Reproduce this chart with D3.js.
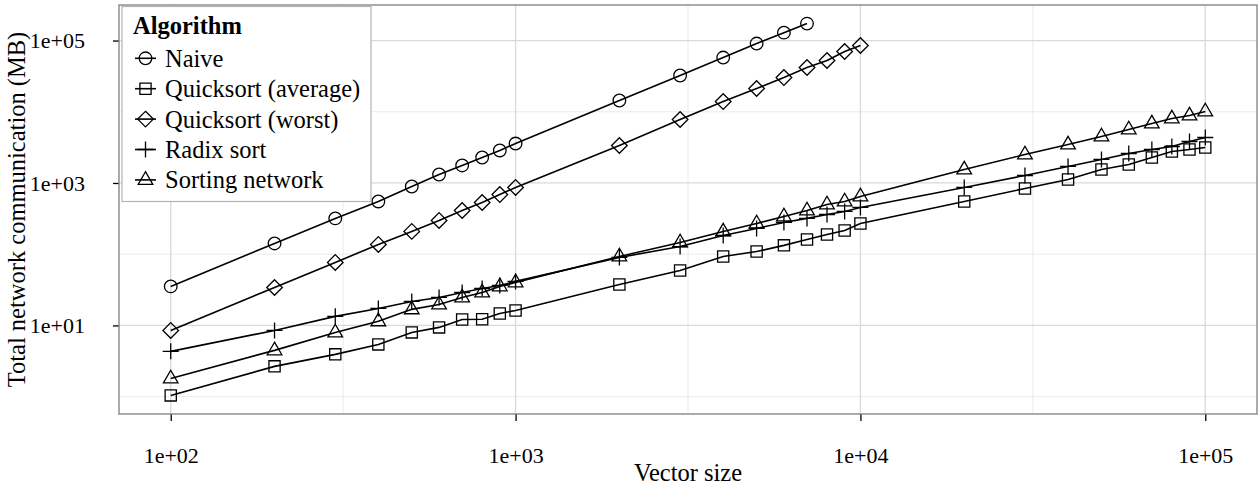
<!DOCTYPE html>
<html>
<head>
<meta charset="utf-8">
<script src="https://d3js.org/d3.v7.min.js"></script>
<style>
body{margin:0;background:#fff;}
text{font-family:"Liberation Serif","Times New Roman",serif;fill:#000;}
</style>
</head>
<body>
<script>
/////////////////////////////////////////////////////////////////////
// DATA
/////////////////////////////////////////////////////////////////////
var naiveSize=[100,200,300,400,500,600,700,800,900,1000,2000,3000,4000,5000,6000,7000];
var naiveMB=[35.3,141.6,318,550,893,1316,1762,2280,2860,3580,14400,32300,57700,90700,129000,173000];

var qsAvgSize=[100,200,300,400,500,600,700,800,900,1000,2000,3000,4000,5000,6000,7000,8000,9000,10000,
               20000,30000,40000,50000,60000,70000,80000,90000,100000];
var qsAvgMB=[1.04,2.66,3.92,5.41,7.97,9.38,12.1,12.2,14.7,16.2,37.6,59.1,93,109,133,161,189,215,270,
             550,837,1120,1546,1818,2280,2766,2950,3150];

var qsWorstSize=[100,200,300,400,500,600,700,800,900,1000,2000,3000,4000,5000,6000,7000,8000,9000,10000];
var qsWorstMB=[8.5,34.1,76.6,137,209,298,411,532,688,865,3360,7780,13900,21200,30200,41800,52400,70100,85100];

var radixSize=[100,200,300,400,500,600,700,800,900,1000,2000,3000,4000,5000,6000,7000,8000,9000,10000,
               20000,30000,40000,50000,60000,70000,80000,90000,100000];
var radixMB=[4.32,8.5,13.4,17.3,21.7,24.7,29,33,36.4,41.5,90,128,183,230,279,318,361,398,453,
             865,1274,1706,2138,2594,2950,3253,3822,4352];

var sortNetSize=[100,200,300,400,500,600,700,800,900,1000,2000,3000,4000,5000,6000,7000,8000,9000,10000,
                 20000,30000,40000,50000,60000,70000,80000,90000,100000];
var sortNetMB=[1.80,4.46,7.97,11.4,16.8,19.7,24.7,29,35.3,40.2,93,146,208,270,339,411,499,550,647,
               1546,2512,3467,4498,5636,6839,8035,8855,10090];

var algorithmNames=["Naive","Quicksort (average)","Quicksort (worst)","Radix sort","Sorting network"];
var algorithmShapes=["circle","square","diamond","plus","triangle"];

var xMajorTicks=[1e2,1e3,1e4,1e5];
var xMajorLabels=["1e+02","1e+03","1e+04","1e+05"];
var xMinorTicks=[Math.pow(10,2.5),Math.pow(10,3.5),Math.pow(10,4.5)];
var yMajorTicks=[1e1,1e3,1e5];
var yMajorLabels=["1e+01","1e+03","1e+05"];
var yMinorTicks=[1e0,1e2,1e4];

/////////////////////////////////////////////////////////////////////
// LAYOUT
/////////////////////////////////////////////////////////////////////
var W=1258, H=495;
var panel={left:119, right:1257, top:5, bottom:414};
var tickFont=22,   // tick labels
    titleFont=24.5; // axis titles and legend

var series=[
   {name:algorithmNames[0],shape:algorithmShapes[0],xs:naiveSize,ys:naiveMB},
   {name:algorithmNames[1],shape:algorithmShapes[1],xs:qsAvgSize,ys:qsAvgMB},
   {name:algorithmNames[2],shape:algorithmShapes[2],xs:qsWorstSize,ys:qsWorstMB},
   {name:algorithmNames[3],shape:algorithmShapes[3],xs:radixSize,ys:radixMB},
   {name:algorithmNames[4],shape:algorithmShapes[4],xs:sortNetSize,ys:sortNetMB}
];
series.forEach(function(s){ s.points=s.xs.map(function(v,i){return {x:v,y:s.ys[i]};}); });

// ggplot style 5% expansion in log space
function logDomain(vals){
   var lo=Math.log10(d3.min(vals)), hi=Math.log10(d3.max(vals)), pad=(hi-lo)*0.05;
   return [Math.pow(10,lo-pad),Math.pow(10,hi+pad)];
}
var allX=[].concat.apply([],series.map(function(s){return s.xs;})),
    allY=[].concat.apply([],series.map(function(s){return s.ys;}));

var x=d3.scaleLog().domain(logDomain(allX)).range([panel.left,panel.right]);
var y=d3.scaleLog().domain(logDomain(allY)).range([panel.bottom,panel.top]);

// marker paths centred on 0,0
function shapePath(shape){
   switch(shape){
      case "circle":   return "M6.3,0A6.3,6.3 0 1,1 -6.3,0A6.3,6.3 0 1,1 6.3,0Z";
      case "square":   return "M-5.6,-5.6H5.6V5.6H-5.6Z";
      case "diamond":  return "M0,-7.8L7.8,0L0,7.8L-7.8,0Z";
      case "plus":     return "M-8,0H8M0,-8V8";
      case "triangle": return "M0,-8.2L7.3,4.4H-7.3Z";
   }
}

var svg=d3.select("body").append("svg").attr("width",W).attr("height",H);

/////////////////////////////////////////////////////////////////////
// GRID
/////////////////////////////////////////////////////////////////////
var grid=svg.append("g");
grid.selectAll("line.xminor").data(xMinorTicks).enter().append("line")
    .attr("x1",function(d){return x(d);}).attr("x2",function(d){return x(d);})
    .attr("y1",panel.top).attr("y2",panel.bottom)
    .attr("stroke","#ebebeb").attr("stroke-width",1);
grid.selectAll("line.yminor").data(yMinorTicks).enter().append("line")
    .attr("y1",function(d){return y(d);}).attr("y2",function(d){return y(d);})
    .attr("x1",panel.left).attr("x2",panel.right)
    .attr("stroke","#ebebeb").attr("stroke-width",1);
grid.selectAll("line.xmajor").data(xMajorTicks).enter().append("line")
    .attr("x1",function(d){return x(d);}).attr("x2",function(d){return x(d);})
    .attr("y1",panel.top).attr("y2",panel.bottom)
    .attr("stroke","#d9d9d9").attr("stroke-width",1.3);
grid.selectAll("line.ymajor").data(yMajorTicks).enter().append("line")
    .attr("y1",function(d){return y(d);}).attr("y2",function(d){return y(d);})
    .attr("x1",panel.left).attr("x2",panel.right)
    .attr("stroke","#d9d9d9").attr("stroke-width",1.3);

/////////////////////////////////////////////////////////////////////
// AXES
/////////////////////////////////////////////////////////////////////
var xAxis=d3.axisBottom(x).tickValues(xMajorTicks)
            .tickFormat(function(d,i){return xMajorLabels[i];})
            .tickSize(7).tickPadding(26);
var gx=svg.append("g").attr("transform","translate(0,"+panel.bottom+")").call(xAxis);
gx.select(".domain").remove();
gx.selectAll("line").attr("stroke","#000").attr("stroke-width",1.3);
gx.selectAll("text").style("font-size",tickFont+"px").attr("font-family",null);

var yAxis=d3.axisLeft(y).tickValues(yMajorTicks)
            .tickFormat(function(d,i){return yMajorLabels[i];})
            .tickSize(6).tickPadding(28);
var gy=svg.append("g").attr("transform","translate("+panel.left+",0)").call(yAxis);
gy.select(".domain").remove();
gy.selectAll("line").attr("stroke","#000").attr("stroke-width",1.3);
gy.selectAll("text").style("font-size",tickFont+"px").attr("font-family",null);

svg.append("text").attr("x",(panel.left+panel.right)/2).attr("y",481)
   .attr("text-anchor","middle").style("font-size",titleFont+"px").text("Vector size");
svg.append("text").attr("transform","translate(25,"+((panel.top+panel.bottom)/2)+") rotate(-90)")
   .attr("text-anchor","middle").style("font-size",titleFont+"px").text("Total network communication (MB)");

/////////////////////////////////////////////////////////////////////
// SERIES
/////////////////////////////////////////////////////////////////////
var line=d3.line().x(function(d){return x(d.x);}).y(function(d){return y(d.y);});

series.forEach(function(s){
   var g=svg.append("g");
   g.append("path").datum(s.points).attr("d",line)
    .attr("fill","none").attr("stroke","#000").attr("stroke-width",1.6);
   g.selectAll("path.mark").data(s.points).enter().append("path")
    .attr("class","mark")
    .attr("transform",function(d){return "translate("+x(d.x)+","+y(d.y)+")";})
    .attr("d",shapePath(s.shape))
    .attr("fill","none").attr("stroke","#000").attr("stroke-width",1.3);
});

// panel border
svg.append("rect").attr("x",panel.left).attr("y",panel.top)
   .attr("width",panel.right-panel.left).attr("height",panel.bottom-panel.top)
   .attr("fill","none").attr("stroke","#7f7f7f").attr("stroke-width",1.3);

/////////////////////////////////////////////////////////////////////
// LEGEND
/////////////////////////////////////////////////////////////////////
var legend=svg.append("g");
legend.append("rect").attr("x",122).attr("y",6.5).attr("width",249).attr("height",195)
      .attr("fill","#fff").attr("stroke","#b3b3b3").attr("stroke-width",1.2);
legend.append("text").attr("x",133).attr("y",34).style("font-size",titleFont+"px")
      .style("font-weight","bold").text("Algorithm");

var keys=legend.selectAll("g.key").data(series).enter().append("g")
      .attr("transform",function(d,i){return "translate(0,"+(58.3+i*30.4)+")";});
keys.append("line").attr("x1",135).attr("x2",156).attr("y1",0).attr("y2",0)
    .attr("stroke","#000").attr("stroke-width",1.6);
keys.append("path").attr("transform","translate(145.5,0)")
    .attr("d",function(d){return shapePath(d.shape);})
    .attr("fill","none").attr("stroke","#000").attr("stroke-width",1.3);
keys.append("text").attr("x",165).attr("y",0).attr("dy","0.35em")
    .style("font-size",titleFont+"px").text(function(d){return d.name;});
</script>
</body>
</html>
